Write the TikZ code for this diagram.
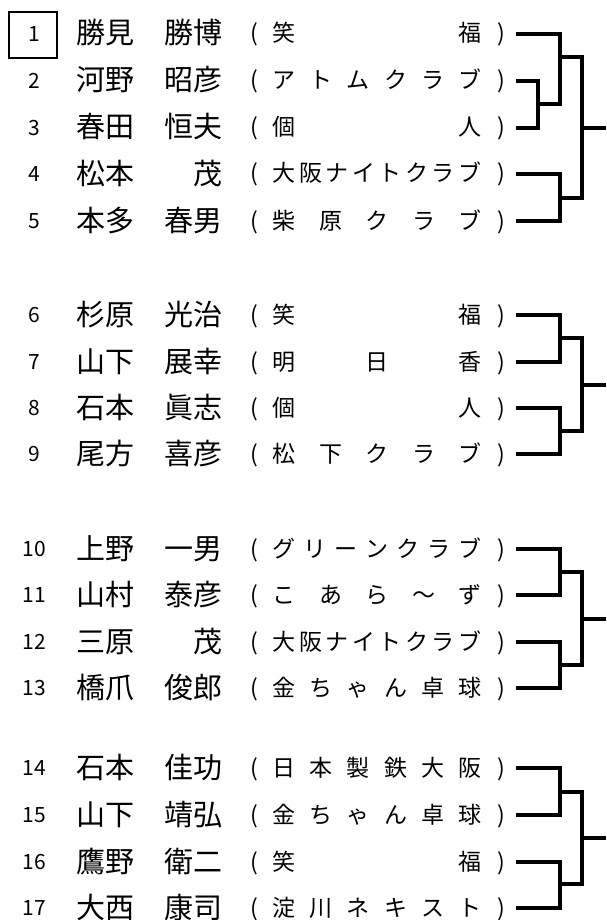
\documentclass[tikz,border=0pt]{standalone}
\usepackage{fontspec}
\setmainfont{Noto Sans CJK JP}
\begin{document}
\begin{tikzpicture}[x=1pt,y=-1pt,
  numtxt/.style={font=\fontsize{21}{21}\selectfont, anchor=base, inner sep=0pt},
  nametxt/.style={font=\fontsize{29}{29}\selectfont, inner sep=0pt},
  clubtxt/.style={font=\fontsize{23}{23}\selectfont, anchor=base, inner sep=0pt},
  bracket/.style={line width=3.2pt, line join=miter},
  numbox/.style={draw, line width=2.2pt, minimum width=48pt, minimum height=46pt, inner sep=0pt}]
\useasboundingbox (0,0) rectangle (606,920);

\foreach \i/\y/\fam/\giv/\n/\club in {
  1/34/勝見/勝博/2/{笑,福},
  2/81/河野/昭彦/6/{ア,ト,ム,ク,ラ,ブ},
  3/128/春田/恒夫/2/{個,人},
  4/174/松本/茂/8/{大,阪,ナ,イ,ト,ク,ラ,ブ},
  5/221/本多/春男/5/{柴,原,ク,ラ,ブ},
  6/315/杉原/光治/2/{笑,福},
  7/362/山下/展幸/3/{明,日,香},
  8/408/石本/眞志/2/{個,人},
  9/454/尾方/喜彦/5/{松,下,ク,ラ,ブ},
  10/549/上野/一男/7/{グ,リ,ー,ン,ク,ラ,ブ},
  11/595/山村/泰彦/5/{こ,あ,ら,～,ず},
  12/642/三原/茂/8/{大,阪,ナ,イ,ト,ク,ラ,ブ},
  13/688/橋爪/俊郎/6/{金,ち,ゃ,ん,卓,球},
  14/768/石本/佳功/6/{日,本,製,鉄,大,阪},
  15/815/山下/靖弘/6/{金,ち,ゃ,ん,卓,球},
  16/862/鷹野/衛二/2/{笑,福},
  17/908/大西/康司/6/{淀,川,ネ,キ,ス,ト}}{
  \node[numtxt] (n\i) at (34,\y+7.5) {\i};
  \node[nametxt, anchor=base west] (f\i) at (76,\y+10) {\fam};
  \node[nametxt, anchor=base east] (g\i) at (223,\y+10) {\giv};
  \node[clubtxt] (o\i) at (254,\y+8) {(};
  \node[clubtxt] (p\i) at (501,\y+8) {)};
  \foreach \c [count=\j] in \club {
    \pgfmathsetmacro\cx{284+(\j-1)*186/(\n-1)}
    \node[clubtxt] (c\i-\j) at (\cx,\y+8) {\c};
  }
  \coordinate (e\i) at (516,\y);
}

\node[numbox] (box1) at (33,35) {};

% group 1
\coordinate (j23) at (538,104);
\coordinate (j123) at (560,57);
\coordinate (j45) at (560,198);
\coordinate (k1) at (582,128);
\coordinate (out1) at (606,128);
\draw[bracket] (e2) -| (j23) |- (e3);
\draw[bracket] (e1) -| (j23 -| j123) -- (j23);
\draw[bracket] (e4) -| (j45) |- (e5);
\draw[bracket] (j123) -| (k1) |- (j45);
\draw[bracket] (k1) -- (out1);

% group 2
\coordinate (j67) at (560,338);
\coordinate (j89) at (560,431);
\coordinate (k2) at (582,385);
\coordinate (out2) at (606,385);
\draw[bracket] (e6) -| (j67) |- (e7);
\draw[bracket] (e8) -| (j89) |- (e9);
\draw[bracket] (j67) -| (k2) |- (j89);
\draw[bracket] (k2) -- (out2);

% group 3
\coordinate (j1011) at (560,572);
\coordinate (j1213) at (560,665);
\coordinate (k3) at (582,619);
\coordinate (out3) at (606,619);
\draw[bracket] (e10) -| (j1011) |- (e11);
\draw[bracket] (e12) -| (j1213) |- (e13);
\draw[bracket] (j1011) -| (k3) |- (j1213);
\draw[bracket] (k3) -- (out3);

% group 4
\coordinate (j1415) at (560,792);
\coordinate (j1617) at (560,884);
\coordinate (k4) at (582,838);
\coordinate (out4) at (606,838);
\draw[bracket] (e14) -| (j1415) |- (e15);
\draw[bracket] (e16) -| (j1617) |- (e17);
\draw[bracket] (j1415) -| (k4) |- (j1617);
\draw[bracket] (k4) -- (out4);
\end{tikzpicture}
\end{document}
